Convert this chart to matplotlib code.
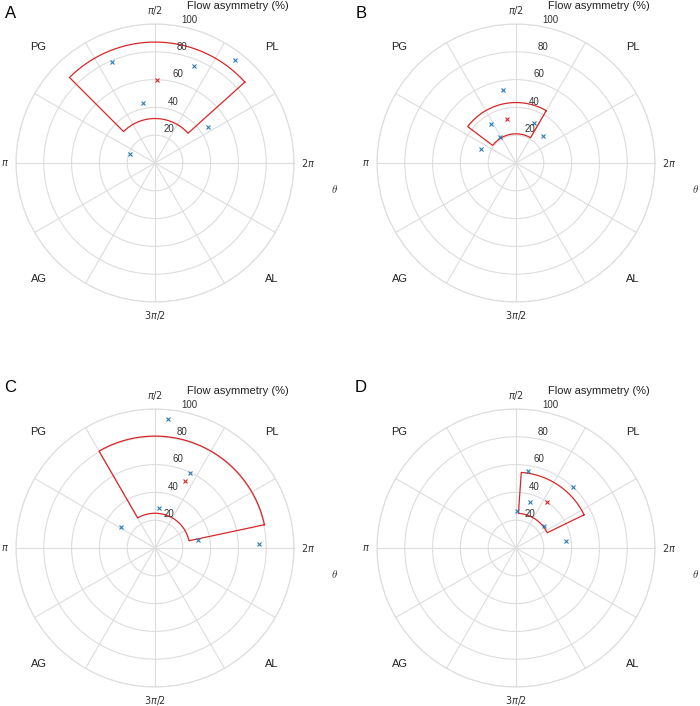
import numpy as np
import matplotlib
matplotlib.use("Agg")
import matplotlib.pyplot as plt
from matplotlib.transforms import ScaledTranslation

plt.rcParams['font.family'] = ['Liberation Sans', 'DejaVu Sans']

panels = ['A', 'B', 'C', 'D']
# sector bounds (degrees) and radial bounds (%)
sector_theta_deg = [(42, 135), (60, 143), (12, 120), (26, 86)]
sector_r = [(32, 87), (21, 43.5), (25, 80.5), (25, 54.5)]
# mean point
mean_theta_deg = [88.6, 102, 65.6, 55.8]
mean_r = [60, 32.4, 53, 39.7]
# individual points
A_theta = [113, 68, 52, 101.5, 34.3, 160]
A_r = [78.8, 75.3, 94, 44.3, 46.4, 19.1]
B_theta = [100.4, 122.5, 65.4, 45.3, 121.6, 157.8]
B_r = [53.2, 33, 31.7, 27.3, 22, 27.4]
C_theta = [84.4, 65, 84.2, 147.8, 10.1, 2]
C_r = [93, 59.6, 28.7, 28.9, 31.4, 75.2]
D_theta = [81.4, 47, 73, 88, 37.9, 8.5]
D_r = [56, 60, 34.6, 26.6, 25.8, 36.1]
pts_theta = [A_theta, B_theta, C_theta, D_theta]
pts_r = [A_r, B_r, C_r, D_r]

r_ticks = [20, 40, 60, 80, 100]
pi_labels = [(0, r'$2\pi$', 110), (90, r'$\pi/2$', 110), (180, r'$\pi$', 108), (270, r'$3\pi/2$', 110)]
region_labels = [(45, 'PL'), (135, 'PG'), (225, 'AG'), (315, 'AL')]

W, H = 700, 706
fig = plt.figure(figsize=(W / 100, H / 100), dpi=100)
R = 139
centers = [(155, 163), (516, 163), (155, 548), (516, 548)]
letter_pos = [(11, 13), (361, 13), (10, 387), (361, 387)]

grid_c = '#dddddd'
blue = '#2a7bb8'
red = '#d62728'

for i, p in enumerate(panels):
    cx, cy = centers[i]
    ax = fig.add_axes([(cx - R) / W, 1 - (cy + R) / H, 2 * R / W, 2 * R / H],
                      projection='polar')
    ax.set_ylim(0, 100)
    ax.set_xticks(np.deg2rad(np.arange(0, 360, 30)))
    ax.set_xticklabels([])
    ax.set_yticks(r_ticks)
    ax.set_yticklabels([])
    ax.tick_params(length=0)
    ax.grid(True, color=grid_c, lw=0.8)
    ax.spines['polar'].set_color(grid_c)
    ax.spines['polar'].set_linewidth(0.8)

    off = ax.transData + ScaledTranslation(0.045, 0.062, fig.dpi_scale_trans)
    for t in r_ticks:
        ax.text(np.deg2rad(81), t, str(t), transform=off, fontsize=7,
                ha='left', va='center', color='#333333', clip_on=False)

    # sector outline
    t1, t2 = np.deg2rad(sector_theta_deg[i])
    r1, r2 = sector_r[i]
    arc = np.linspace(t1, t2, 100)
    th = np.concatenate([arc, arc[::-1], [t1]])
    rr = np.concatenate([np.full(100, r2), np.full(100, r1), [r2]])
    ax.plot(th, rr, color=red, lw=0.9)

    ax.plot(np.deg2rad(pts_theta[i]), pts_r[i], 'x', color=blue, ms=3.5, mew=0.8)
    ax.plot(np.deg2rad(mean_theta_deg[i]), mean_r[i], 'x', color=red, ms=3.5, mew=0.8)

    for a, s, rr_lab in pi_labels:
        ax.text(np.deg2rad(a), rr_lab, s, fontsize=7, ha='center', va='center',
                color='#333333', clip_on=False, math_fontfamily='dejavusans')
    for a, s in region_labels:
        ax.text(np.deg2rad(a), 118.5, s, fontsize=8, ha='center', va='center',
                color='#222222', clip_on=False)
    ax.text(1.145, 0.408, r'$\theta$', transform=ax.transAxes, fontsize=8,
            ha='center', va='center', math_fontfamily='cm', color='#333333')
    ax.text(0.797, 1.066, 'Flow asymmetry (%)', transform=ax.transAxes,
            fontsize=8, ha='center', va='center', color='#222222')
    lx, ly = letter_pos[i]
    fig.text(lx / W, 1 - ly / H, p, fontsize=12, ha='center', va='center')

fig.savefig('out.png', dpi=100)
